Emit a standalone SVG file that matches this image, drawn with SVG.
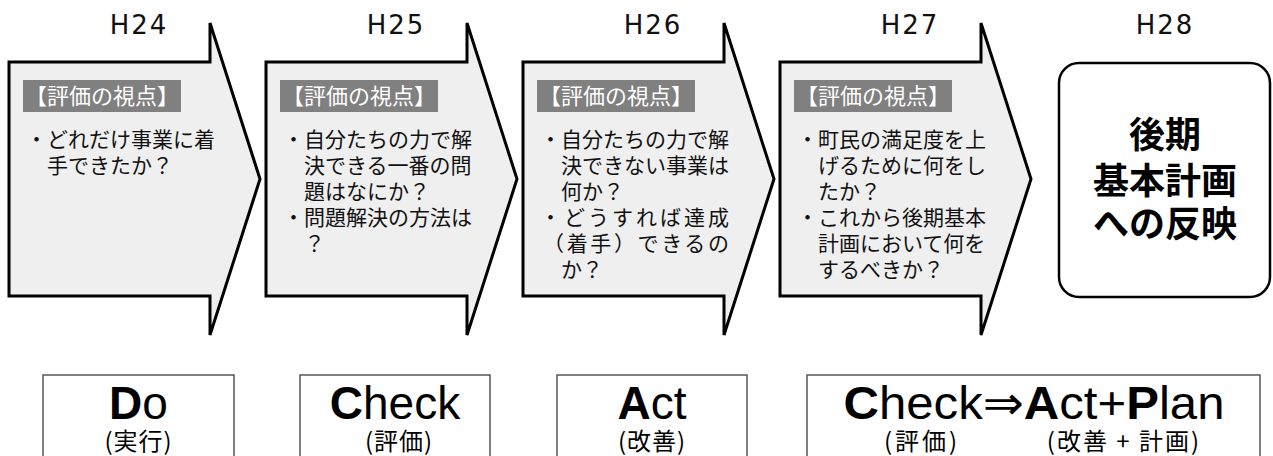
<svg xmlns="http://www.w3.org/2000/svg" width="1273" height="456" viewBox="0 0 1273 456">
<style>
.arrow{fill:#efefef;stroke:#000;stroke-width:3;stroke-linejoin:miter}
.lbl{fill:#808080}
.lt{font-family:"Noto Sans CJK JP",sans-serif;font-size:22px;fill:#fff;text-anchor:middle}
.bt{font-family:"Noto Sans CJK JP",sans-serif;font-size:21px;fill:#111}
.yr{font-family:"DejaVu Sans",sans-serif;font-size:26px;fill:#111;text-anchor:middle;letter-spacing:2px}
.goal{fill:#fff;stroke:#000;stroke-width:2.5}
.gt{font-family:"Noto Sans CJK JP",sans-serif;font-size:36px;font-weight:bold;fill:#000;text-anchor:middle}
.pb{fill:#fff;stroke:#555;stroke-width:1.5}
.pt{font-family:"Liberation Sans",Arial,"DejaVu Sans",sans-serif;font-size:46px;fill:#000;text-anchor:middle}
.pt .b{font-weight:bold}
.st{font-family:"Noto Sans CJK JP",sans-serif;font-size:24px;fill:#000;text-anchor:middle}
</style>
<g id="connectors"></g>

<g id="year-labels">
<text class="yr" x="139" y="34">H24</text>
<text class="yr" x="396" y="34">H25</text>
<text class="yr" x="653" y="34">H26</text>
<text class="yr" x="910" y="34">H27</text>
<text class="yr" x="1165" y="34">H28</text>
</g>

<g id="arrow-h24">
<polygon class="arrow" points="9,62 210,62 210,23 260,179 210,335 210,296 9,296"/>
<rect class="lbl" x="23" y="80" width="158" height="32"/>
<text class="lt" x="102" y="104">【評価の視点】</text>
<text class="bt" x="26" y="147">・どれだけ事業に着</text>
<text class="bt" x="47" y="173">手できたか？</text>
</g>

<g id="arrow-h25">
<polygon class="arrow" points="266,62 467,62 467,23 517,179 467,335 467,296 266,296"/>
<rect class="lbl" x="280" y="80" width="158" height="32"/>
<text class="lt" x="359" y="104">【評価の視点】</text>
<text class="bt" x="283" y="147">・自分たちの力で解</text>
<text class="bt" x="304" y="173">決できる一番の問</text>
<text class="bt" x="304" y="199">題はなにか？</text>
<text class="bt" x="283" y="225">・問題解決の方法は</text>
<text class="bt" x="304" y="251">？</text>
</g>

<g id="arrow-h26">
<polygon class="arrow" points="523,62 724,62 724,23 774,179 724,335 724,296 523,296"/>
<rect class="lbl" x="537" y="80" width="158" height="32"/>
<text class="lt" x="616" y="104">【評価の視点】</text>
<text class="bt" x="540" y="147">・自分たちの力で解</text>
<text class="bt" x="561" y="173">決できない事業は</text>
<text class="bt" x="561" y="199">何か？</text>
<text class="bt" x="540" y="225" textLength="189" lengthAdjust="spacing">・どうすれば達成</text>
<text class="bt" x="543" y="251" textLength="186" lengthAdjust="spacing">（着手）できるの</text>
<text class="bt" x="561" y="277">か？</text>
</g>

<g id="arrow-h27">
<polygon class="arrow" points="780,62 981,62 981,23 1031,179 981,335 981,296 780,296"/>
<rect class="lbl" x="794" y="80" width="158" height="32"/>
<text class="lt" x="873" y="104">【評価の視点】</text>
<text class="bt" x="797" y="147">・町民の満足度を上</text>
<text class="bt" x="818" y="173">げるために何をし</text>
<text class="bt" x="818" y="199">たか？</text>
<text class="bt" x="797" y="225">・これから後期基本</text>
<text class="bt" x="818" y="251">計画において何を</text>
<text class="bt" x="818" y="277">するべきか？</text>
</g>

<g id="goal-h28">
<rect class="goal" x="1059" y="63" width="211" height="234" rx="20" ry="20"/>
<text class="gt" x="1165" y="148">後期</text>
<text class="gt" x="1165" y="194">基本計画</text>
<text class="gt" x="1165" y="237">への反映</text>
</g>

<g id="pdca-do">
<rect class="pb" x="43" y="375" width="191" height="100"/>
<text class="pt" x="138.5" y="419"><tspan class="b">D</tspan>o</text>
<text class="st" x="138.5" y="450" letter-spacing="1">(実行)</text>
</g>

<g id="pdca-check">
<rect class="pb" x="300" y="375" width="190" height="100"/>
<text class="pt" x="395" y="419"><tspan class="b">C</tspan>heck</text>
<text class="st" x="399" y="450" letter-spacing="1">(評価)</text>
</g>

<g id="pdca-act">
<rect class="pb" x="557" y="375" width="190" height="100"/>
<text class="pt" x="652" y="419"><tspan class="b">A</tspan>ct</text>
<text class="st" x="652" y="450" letter-spacing="1">(改善)</text>
</g>

<g id="pdca-cap">
<rect class="pb" x="807" y="375" width="453" height="100"/>
<text class="pt" x="1034" y="419" textLength="381" lengthAdjust="spacingAndGlyphs"><tspan class="b">C</tspan>heck⇒<tspan class="b">A</tspan>ct+<tspan class="b">P</tspan>lan</text>
<text class="st" x="922" y="450" letter-spacing="3">(評価)</text>
<text class="st" x="1124" y="450" letter-spacing="2">(改善 + 計画)</text>
</g>
</svg>
